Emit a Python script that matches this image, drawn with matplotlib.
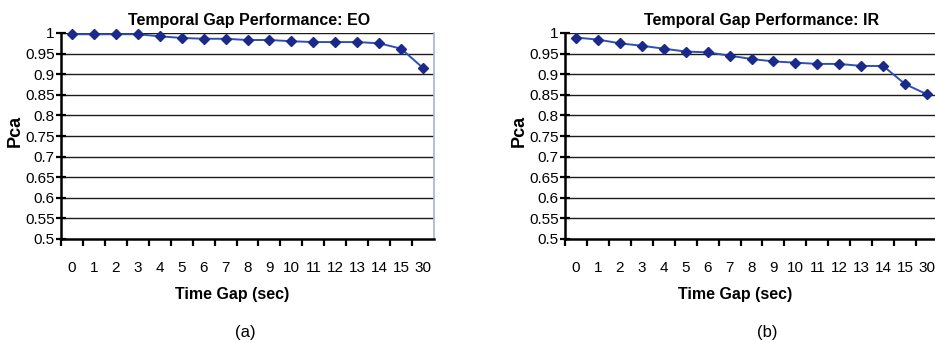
import matplotlib
matplotlib.use("Agg")
import matplotlib.pyplot as plt
from matplotlib import font_manager

# Time gap categories (seconds) and probability of correct association
time_gaps = ["0", "1", "2", "3", "4", "5", "6", "7", "8", "9", "10",
             "11", "12", "13", "14", "15", "30"]
pca_eo = [0.997, 0.997, 0.997, 0.997, 0.992, 0.988, 0.986, 0.986, 0.983,
          0.983, 0.980, 0.978, 0.978, 0.978, 0.975, 0.962, 0.915]
pca_ir = [0.989, 0.984, 0.975, 0.969, 0.962, 0.955, 0.953, 0.945, 0.937,
          0.931, 0.928, 0.925, 0.925, 0.920, 0.920, 0.876, 0.851]
y_ticks = [0.5, 0.55, 0.6, 0.65, 0.7, 0.75, 0.8, 0.85, 0.9, 0.95, 1.0]
y_tick_labels = ["0.5", "0.55", "0.6", "0.65", "0.7", "0.75", "0.8",
                 "0.85", "0.9", "0.95", "1"]
titles = ["Temporal Gap Performance: EO", "Temporal Gap Performance: IR"]
panel_tags = ["(a)", "(b)"]

installed = {f.name for f in font_manager.fontManager.ttflist}
narrow = "Liberation Sans Narrow" if "Liberation Sans Narrow" in installed else "Liberation Sans"
plt.rcParams["font.family"] = ["Liberation Sans", "DejaVu Sans"]

W, H = 935, 343
fig = plt.figure(figsize=(W / 100, H / 100), dpi=100)
fig.patch.set_facecolor("white")

ax_w = 373 / W
ax_h = 206 / H
ax_bottom = 1 - 239 / H
lefts = [61 / W, 565 / W]
title_x = [249 / W, 762 / W]
xlabel_x = [232 / W, 735 / W]
tag_x = [245 / W, 767 / W]
ylabel_x = [15 / W, 519 / W]

line_color = "#2f4fb8"
marker_color = "#1b2a8a"
grid_color = "#1e1a18"

for i, series in enumerate([pca_eo, pca_ir]):
    ax = fig.add_axes([lefts[i], ax_bottom, ax_w, ax_h])
    xs = list(range(len(time_gaps)))
    ax.plot(xs, series, color=line_color, lw=1.4, marker="D", ms=5.5,
            mfc=marker_color, mec=marker_color, zorder=3, clip_on=False)
    ax.set_xlim(-0.5, len(time_gaps) - 0.5)
    ax.set_ylim(0.5, 1.0)

    # horizontal gridlines
    for yv in y_ticks[1:]:
        ax.axhline(yv, color=grid_color, lw=1.0, zorder=1)

    ax.set_yticks(y_ticks)
    ax.set_yticklabels(y_tick_labels, fontsize=11)
    ax.tick_params(axis="y", direction="inout", length=7, width=1.6,
                   pad=1, colors="black")

    # tick marks on category boundaries, labels at category centres
    ax.set_xticks([x + 0.5 for x in xs[:-1]] + [-0.5])
    ax.set_xticklabels([])
    ax.set_xticks(xs, minor=True)
    ax.set_xticklabels(time_gaps, minor=True, fontsize=11)
    ax.tick_params(axis="x", which="major", direction="out", length=5,
                   width=1.6, colors="black")
    ax.tick_params(axis="x", which="minor", length=0, pad=16)

    ax.spines["top"].set_visible(False)
    ax.spines["right"].set_color("#9fb9d2")
    ax.spines["right"].set_linewidth(1.2)
    ax.spines["left"].set_linewidth(1.8)
    ax.spines["bottom"].set_linewidth(1.8)

    fig.text(title_x[i], 1 - 20 / H, titles[i], ha="center", va="center",
             fontsize=11.5, fontweight="bold", family=narrow)
    fig.text(xlabel_x[i], 1 - 294 / H, "Time Gap (sec)", ha="center",
             va="center", fontsize=11.5, fontweight="bold", family=narrow)
    fig.text(tag_x[i], 1 - 333 / H, panel_tags[i], ha="center", va="center",
             fontsize=12)
    fig.text(ylabel_x[i], 1 - 131 / H, "Pca", ha="center", va="center",
             rotation=90, fontsize=13, fontweight="bold", family=narrow)

fig.savefig("out.png", dpi=100, facecolor="white")
